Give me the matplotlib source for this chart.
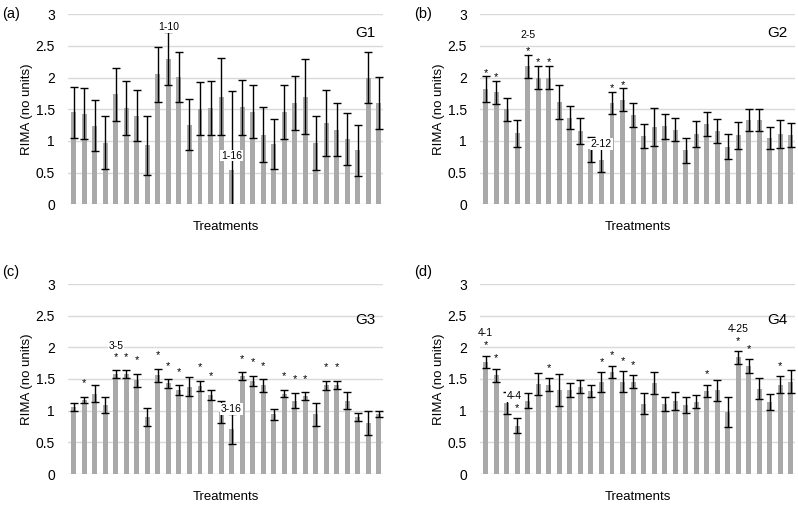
import numpy as np
import matplotlib
matplotlib.use('Agg')
import matplotlib.pyplot as plt

plt.rcParams['font.family'] = ['Liberation Sans', 'DejaVu Sans']

# RIMA values per treatment (30 treatments per group)
treatments = np.arange(1, 31)

g1_mean = [1.45, 1.43, 1.24, 0.97, 1.74, 1.52, 1.40, 0.93, 2.05, 2.30,
           2.01, 1.26, 1.51, 1.52, 1.70, 0.54, 1.53, 1.46, 1.10, 0.95,
           1.46, 1.60, 1.70, 0.97, 1.29, 1.18, 1.03, 0.85, 2.00, 1.60]
g1_err = [0.40, 0.40, 0.40, 0.42, 0.42, 0.42, 0.40, 0.47, 0.44, 0.42,
          0.40, 0.41, 0.42, 0.43, 0.61, 1.25, 0.44, 0.42, 0.43, 0.40,
          0.43, 0.42, 0.59, 0.43, 0.52, 0.42, 0.41, 0.40, 0.40, 0.41]

g2_mean = [1.82, 1.77, 1.50, 1.12, 2.18, 2.00, 2.00, 1.62, 1.37, 1.16,
           0.87, 0.70, 1.60, 1.65, 1.41, 1.08, 1.22, 1.23, 1.18, 0.85,
           1.11, 1.27, 1.16, 0.91, 1.09, 1.33, 1.33, 1.05, 1.11, 1.09]
g2_err = [0.20, 0.18, 0.18, 0.21, 0.18, 0.18, 0.18, 0.27, 0.18, 0.20,
          0.20, 0.19, 0.18, 0.18, 0.19, 0.19, 0.30, 0.20, 0.18, 0.20,
          0.20, 0.19, 0.19, 0.20, 0.21, 0.18, 0.17, 0.17, 0.22, 0.19]

g3_mean = [1.06, 1.17, 1.27, 1.09, 1.58, 1.58, 1.48, 0.90, 1.56, 1.43,
           1.32, 1.38, 1.39, 1.25, 0.98, 0.71, 1.55, 1.47, 1.40, 0.94,
           1.27, 1.16, 1.23, 0.94, 1.40, 1.41, 1.16, 0.90, 0.81, 0.95]
g3_err = [0.06, 0.05, 0.13, 0.13, 0.06, 0.06, 0.10, 0.14, 0.10, 0.07,
          0.08, 0.15, 0.08, 0.08, 0.18, 0.24, 0.06, 0.08, 0.10, 0.08,
          0.06, 0.12, 0.06, 0.18, 0.07, 0.06, 0.14, 0.06, 0.19, 0.05]

g4_mean = [1.77, 1.56, 1.12, 0.76, 1.16, 1.42, 1.41, 1.33, 1.32, 1.38,
           1.31, 1.45, 1.61, 1.46, 1.46, 1.11, 1.44, 1.11, 1.15, 1.09,
           1.14, 1.31, 1.32, 0.98, 1.84, 1.70, 1.35, 1.14, 1.41, 1.46]
g4_err = [0.10, 0.10, 0.18, 0.12, 0.12, 0.18, 0.10, 0.25, 0.11, 0.10,
          0.10, 0.16, 0.10, 0.16, 0.10, 0.17, 0.17, 0.11, 0.14, 0.12,
          0.10, 0.10, 0.17, 0.24, 0.10, 0.11, 0.16, 0.13, 0.13, 0.18]

# treatments marked with * (significant)
g1_stars = []
g2_stars = [1, 2, 5, 6, 7, 13, 14]
g3_stars = [2, 5, 6, 7, 9, 10, 11, 13, 14, 17, 18, 19, 21, 22, 23, 25, 26]
g4_stars = [1, 2, 4, 7, 12, 13, 14, 15, 22, 25, 26, 29]

# named treatments: (treatment, label, y of label, x shift)
g1_labels = [(10, '1-10', 2.80, 0), (16, '1-16', 0.77, 0)]
g2_labels = [(5, '2-5', 2.67, 0), (12, '2-12', 0.95, 0)]
g3_labels = [(5, '3-5', 2.02, 0), (16, '3-16', 1.03, 0)]
g4_labels = [(1, '4-1', 2.23, 0), (4, '4-4', 1.23, -0.3), (25, '4-25', 2.29, 0)]

panels = [
    ('(a)', 'G1', g1_mean, g1_err, g1_stars, g1_labels, 0.0, 0.90),
    ('(b)', 'G2', g2_mean, g2_err, g2_stars, g2_labels, 0.5, 0.90),
    ('(c)', 'G3', g3_mean, g3_err, g3_stars, g3_labels, 7.5, 0.81),
    ('(d)', 'G4', g4_mean, g4_err, g4_stars, g4_labels, 5.3, 0.81),
]

W, H = 798, 508
fig = plt.figure(figsize=(W / 100, H / 100), dpi=100)

# axes rectangles in pixels: left, bottom(from top)
rects = [(68, 204.3), (480, 204.3), (68, 474), (480, 474)]
ax_w, ax_h = 315, 190

bar_color = '#a9a9a9'
grid_color = '#d9d9d9'

for (tag, gname, mean, err, stars, labels, star_off, gy), (lx, by) in zip(panels, rects):
    ax = fig.add_axes([lx / W, 1 - by / H, ax_w / W, ax_h / H])
    ax.bar(treatments, mean, width=0.47, color=bar_color, zorder=2)
    ax.errorbar(treatments, mean, yerr=err, fmt='none', ecolor='black',
                elinewidth=1, capsize=2.6, capthick=1, zorder=3)
    ax.set_ylim(0, 3)
    ax.set_xlim(0.45, 30.4)
    ax.set_yticks(np.arange(0, 3.01, 0.5))
    ax.set_yticklabels(['0', '0.5', '1', '1.5', '2', '2.5', '3'])
    ax.set_xticks([])
    ax.tick_params(axis='y', length=0, pad=9.5, labelsize=10)
    ax.grid(axis='y', color=grid_color, linewidth=1, zorder=0)
    for s in ax.spines.values():
        s.set_visible(False)
    ax.set_ylabel('RIMA (no units)', fontsize=9.5)
    ax.yaxis.set_label_coords(-0.11, 0.5)
    ax.set_xlabel('Treatments', fontsize=9.5)
    ax.xaxis.set_label_coords(0.5, -0.09)

    for t in stars:
        top = mean[t - 1] + err[t - 1]
        ax.annotate('*', (t, top), xytext=(0, star_off), textcoords='offset points',
                    ha='center', va='baseline', fontsize=8)
    for t, txt, y, dx in labels:
        ax.text(t + dx, y, txt, ha='center', va='center', fontsize=7.5, zorder=4,
                bbox=dict(facecolor='white', edgecolor='none', pad=0.6))

    ax.text(0.975, gy, gname, transform=ax.transAxes, ha='right', va='center',
            fontsize=11)
    fig.text((lx - 66) / W, 1 - (by - 190 - (0 if by < 300 else 12)) / H, tag,
             ha='left', va='center', fontsize=10.5)

fig.savefig('out.png', dpi=100, facecolor='white')
